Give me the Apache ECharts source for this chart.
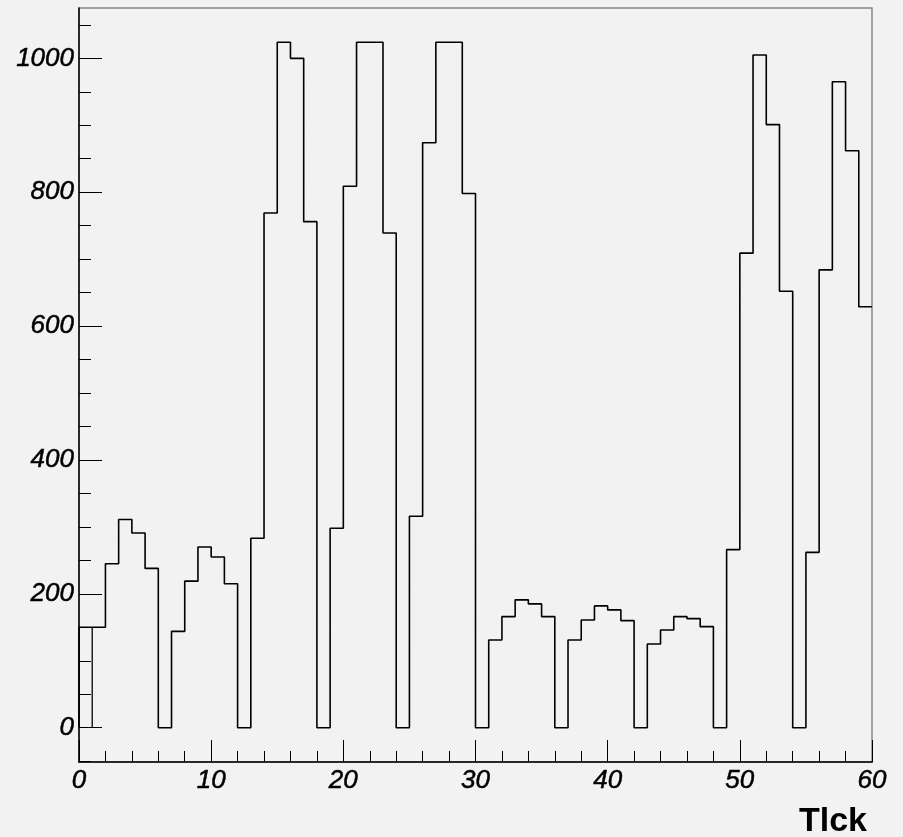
<!DOCTYPE html>
<html>
<head>
<meta charset="utf-8">
<script src="https://cdn.jsdelivr.net/npm/echarts@6/dist/echarts.min.js"></script>
<style>
html,body{margin:0;padding:0;background:#f2f2f2;}
#c{width:903px;height:837px;}
</style>
</head>
<body>
<div id="c"></div>
<script>
// Histogram: 60 bins of width 1 on [0, 60]
const binEdges = [0,1,2,3,4,5,6,7,8,9,10,11,12,13,14,15,16,17,18,19,20,21,22,23,24,25,26,27,28,29,30,31,32,33,34,35,36,37,38,39,40,41,42,43,44,45,46,47,48,49,50,51,52,53,54,55,56,57,58,59,60];
const binValues = [150,150,245,311,291,238,
                   0,144,219,270,255,215,
                   0,283,769,1024,1000,756,
                   0,298,809,1024,1024,739,
                   0,316,874,1024,1024,798,
                   0,131,166,191,185,166,
                   0,131,161,182,176,160,
                   0,125,146,166,163,151,
                   0,266,709,1005,901,652,
                   0,262,684,965,862,629];
const xTickLabels = [0,10,20,30,40,50,60];
const yTickLabels = [0,200,400,600,800,1000];
const xTitle = 'Tlck';
const yMaxValue = 1024;

// minor tick positions (ROOT style: 5 divisions per major step)
const xMinorTicks = [];
for (let v = 0; v <= 60; v += 2) xMinorTicks.push(v);
const yMinorTicks = [];
for (let v = -50; v <= 1050; v += 50) yMinorTicks.push(v);

// step outline built from bins
const stepPts = [[binEdges[0], 0]];
for (let i = 0; i < binValues.length; i++) {
  stepPts.push([binEdges[i], binValues[i]]);
  stepPts.push([binEdges[i + 1], binValues[i]]);
}
const firstEdgeLine = [[binEdges[1], 0], [binEdges[1], binValues[0]]];

const yMin = -0.05 * yMaxValue;
const yMax = 1.05 * yMaxValue;

const labelFont = {color:'#000', fontFamily:'Liberation Sans, Arial, sans-serif', fontStyle:'italic', fontSize:26,
                   textBorderColor:'#000', textBorderWidth:0.5,
                   formatter:function(v){return String(v);}};

const chart = echarts.init(document.getElementById('c'), null, {renderer:'canvas'});
chart.setOption({
  backgroundColor:'#f2f2f2',
  animation:false,
  title:{
    text:xTitle, right:31, top:800,
    textStyle:{color:'#000', fontFamily:'Liberation Sans, Arial, sans-serif', fontWeight:'bold', fontSize:34}
  },
  grid:{left:79, right:31, top:8, bottom:75, show:true, borderColor:'#888', borderWidth:1.5, backgroundColor:'transparent'},
  xAxis:[
    {type:'value', min:0, max:60,
     axisLine:{show:true, onZero:false, lineStyle:{color:'#000', width:1.5}},
     axisTick:{show:true, inside:true, length:22, customValues:xTickLabels, lineStyle:{color:'#000', width:1}},
     axisLabel:Object.assign({margin:6, customValues:xTickLabels}, labelFont),
     splitLine:{show:false}},
    {type:'value', min:0, max:60, position:'bottom',
     axisLine:{show:false, onZero:false},
     axisTick:{show:true, inside:true, length:11, customValues:xMinorTicks, lineStyle:{color:'#000', width:1}},
     axisLabel:{show:false}, splitLine:{show:false}}
  ],
  yAxis:[
    {type:'value', min:yMin, max:yMax,
     axisLine:{show:true, onZero:false, lineStyle:{color:'#000', width:1.5}},
     axisTick:{show:true, inside:true, length:23, customValues:yTickLabels, lineStyle:{color:'#000', width:1}},
     axisLabel:Object.assign({margin:5, customValues:yTickLabels}, labelFont),
     splitLine:{show:false}},
    {type:'value', min:yMin, max:yMax, position:'left',
     axisLine:{show:false, onZero:false},
     axisTick:{show:true, inside:true, length:12, customValues:yMinorTicks, lineStyle:{color:'#000', width:1}},
     axisLabel:{show:false}, splitLine:{show:false}}
  ],
  series:[
    {type:'line', data:stepPts, xAxisIndex:0, yAxisIndex:0, showSymbol:false, symbol:'none',
     lineStyle:{color:'#000', width:1.6}, clip:true, z:5},
    {type:'line', data:firstEdgeLine, xAxisIndex:0, yAxisIndex:0, showSymbol:false, symbol:'none',
     lineStyle:{color:'#000', width:1.3}, z:5}
  ]
});
</script>
</body>
</html>
